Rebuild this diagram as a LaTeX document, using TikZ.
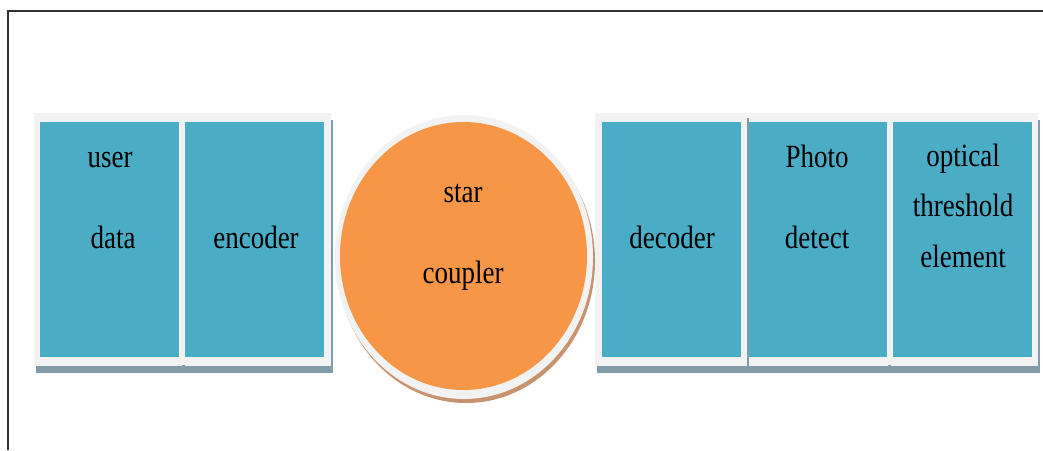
\documentclass[tikz,border=0pt]{standalone}
\usepackage{fontspec}
\setmainfont{Liberation Serif}
\usetikzlibrary{shapes.geometric}
\definecolor{boxblue}{HTML}{4BACC6}
\definecolor{coupor}{HTML}{F79646}
\definecolor{framegray}{HTML}{F2F2F2}
\definecolor{shadowblue}{HTML}{7F9CA8}
\definecolor{shadowbrown}{HTML}{C8926C}
\newcommand{\stretchtxt}[1]{\scalebox{1}[1.2]{#1}}
\tikzset{
  blockbox/.style={rectangle, fill=boxblue, draw=none, inner sep=0pt, minimum width=139pt, minimum height=235pt},
  framebox/.style={rectangle, fill=framegray, draw=none, inner sep=0pt},
  shadowbox/.style={rectangle, fill=shadowblue, draw=none, inner sep=0pt},
  lbl/.style={anchor=base, inner sep=0pt, font=\fontsize{27}{30}\selectfont, text=black},
}
\begin{document}
\begin{tikzpicture}[x=1pt,y=-1pt]
\useasboundingbox (0,0) rectangle (1043,450);
\fill[white] (0,0) rectangle (1043,450);
% outer frame
\draw[line width=1.6pt, black!80] (8,450) -- (8,11) -- (1043,11);

% left group
\node[shadowbox, minimum width=297pt, minimum height=253pt] (lsh) at (184,246) {};
\node[framebox, minimum width=297pt, minimum height=253pt] (lfr) at (182.5,239.5) {};
\node[blockbox] (user) at (109.5,239.5) {};
\node[blockbox] (enc) at (254.5,239.5) {};
\fill[shadowblue] (182,365) rectangle (185,372);

% right group
\node[shadowbox, minimum width=443pt, minimum height=253pt] (rsh) at (818.5,246) {};
\node[framebox, minimum width=443pt, minimum height=253pt] (rfr) at (816.5,239.5) {};
\node[blockbox] (dec) at (671,239.5) {};
\node[blockbox] (pho) at (817,239.5) {};
\node[blockbox] (opt) at (962.5,239.5) {};
\draw[shadowblue, line width=1.8pt] (748,118) -- (748,372);
\fill[shadowblue] (888,365) rectangle (891,372);

% star coupler
\node[ellipse, fill=shadowbrown, minimum width=258pt, minimum height=284pt, inner sep=0pt, draw=none] (csh) at (466,261) {};
\node[ellipse, fill=framegray, minimum width=258pt, minimum height=284pt, inner sep=0pt, draw=none] (cfr) at (464,257) {};
\node[ellipse, fill=coupor, minimum width=247pt, minimum height=268pt, inner sep=0pt, draw=none] (star) at (463.5,256) {};

% labels
\node[lbl] (t1) at (110,167) {\stretchtxt{user}};
\node[lbl] (t2) at (113,248) {\stretchtxt{data}};
\node[lbl] (t3) at (256,248) {\stretchtxt{encoder}};
\node[lbl] (t4) at (463,202) {\stretchtxt{star}};
\node[lbl] (t5) at (463,283) {\stretchtxt{coupler}};
\node[lbl] (t6) at (672,248) {\stretchtxt{decoder}};
\node[lbl] (t7) at (817,167) {\stretchtxt{Photo}};
\node[lbl] (t8) at (817,248) {\stretchtxt{detect}};
\node[lbl] (t9) at (963,166) {\stretchtxt{optical}};
\node[lbl] (t10) at (963,216) {\stretchtxt{threshold}};
\node[lbl] (t11) at (963,267) {\stretchtxt{element}};
\end{tikzpicture}
\end{document}
